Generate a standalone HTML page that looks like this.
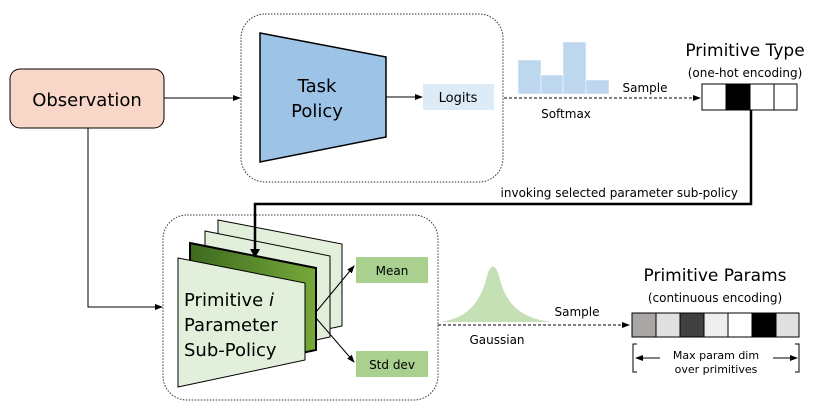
<!DOCTYPE html>
<html><head><meta charset="utf-8"><style>
body{margin:0;background:#fff;}
svg text{font-family:"DejaVu Sans","Liberation Sans",sans-serif;}
</style></head><body>
<svg width="830" height="415" viewBox="0 0 830 415" xmlns="http://www.w3.org/2000/svg">
<defs>
<marker id="a" markerWidth="8" markerHeight="8" refX="7" refY="4" orient="auto" markerUnits="userSpaceOnUse"><path d="M0,1 L8,4 L0,7z" fill="#000"/></marker>
<linearGradient id="g" x1="0" x2="1"><stop offset="0" stop-color="#3d6b1e"/><stop offset="1" stop-color="#76a83a"/></linearGradient>
</defs>
<rect x="10" y="69" width="154" height="59" rx="10" fill="#f8d7c9" stroke="#000" stroke-width="1"/>
<text x="87" y="106" font-size="18" text-anchor="middle">Observation</text>
<line x1="164" y1="98" x2="240" y2="98" stroke="#000" marker-end="url(#a)"/>
<polyline points="88,128 88,307 162,307" fill="none" stroke="#000" marker-end="url(#a)"/>
<rect x="241" y="14" width="262" height="168" rx="24" fill="none" stroke="#333" stroke-dasharray="1.5,1.5"/>
<polygon points="260,33 386,57 386,137 260,162" fill="#9dc3e6" stroke="#000" stroke-width="1.5"/>
<text x="317" y="92" font-size="18" text-anchor="middle">Task</text>
<text x="317" y="117" font-size="18" text-anchor="middle">Policy</text>
<line x1="386" y1="97" x2="422" y2="97" stroke="#000" marker-end="url(#a)"/>
<rect x="423" y="84" width="71" height="26" fill="#ddebf7"/>
<text x="458" y="102" font-size="13" text-anchor="middle">Logits</text>
<g fill="#bdd7ee" stroke="#fff" stroke-width="0.5">
<rect x="518" y="60" width="23" height="34"/><rect x="541" y="75" width="22" height="19"/><rect x="563" y="42" width="23" height="52"/><rect x="586" y="80" width="23" height="14"/>
</g>
<line x1="504" y1="98" x2="700" y2="98" stroke="#000" stroke-dasharray="3,2" marker-end="url(#a)"/>
<text x="645" y="92" font-size="12" text-anchor="middle">Sample</text>
<text x="566" y="118" font-size="12" text-anchor="middle">Softmax</text>
<text x="745" y="56" font-size="17" text-anchor="middle">Primitive Type</text>
<text x="745" y="77" font-size="12" text-anchor="middle">(one-hot encoding)</text>
<g stroke="#000" stroke-width="1"><rect x="702" y="84" width="24" height="26" fill="#fff"/><rect x="726" y="84" width="24" height="26" fill="#000"/><rect x="750" y="84" width="24" height="26" fill="#fff"/><rect x="774" y="84" width="23" height="26" fill="#fff"/></g>
<text x="738" y="197" font-size="12" text-anchor="end">invoking selected parameter sub-policy</text>
<rect x="163" y="215" width="275" height="185" rx="24" fill="none" stroke="#333" stroke-dasharray="1.5,1.5"/>
<polygon points="218,220 342,244 342,326 218,352" fill="#e2efda" stroke="#000"/>
<polygon points="205,231 330,256 330,337 205,364" fill="#e2efda" stroke="#000"/>
<polygon points="190,243 316,268 316,350 190,377" fill="url(#g)" stroke="#000" stroke-width="2"/>
<polygon points="178,258 305,283 305,360 178,387" fill="#e2efda" stroke="#000"/>
<polyline points="751,110 751,204 255,204 255,252" fill="none" stroke="#000" stroke-width="2.5"/>
<path d="M250,249 L255,258 L260,249z" fill="#000"/>
<text x="184" y="306" font-size="18">Primitive <tspan font-style="italic">i</tspan></text>
<text x="184" y="331" font-size="18">Parameter</text>
<text x="184" y="356" font-size="18">Sub-Policy</text>
<line x1="316" y1="312" x2="354" y2="266" stroke="#000" marker-end="url(#a)"/>
<line x1="316" y1="318" x2="354" y2="362" stroke="#000" marker-end="url(#a)"/>
<rect x="356" y="257" width="72" height="26" fill="#a9d08e"/>
<text x="392" y="275" font-size="12" text-anchor="middle">Mean</text>
<rect x="356" y="351" width="72" height="26" fill="#a9d08e"/>
<text x="392" y="369" font-size="12" text-anchor="middle">Std dev</text>
<path d="M440,322 C470,318 480,300 486,280 C490,262 496,262 500,280 C506,300 516,318 552,322 Z" fill="#c5e0b4"/>
<line x1="438" y1="325" x2="629" y2="325" stroke="#000" stroke-dasharray="3,2" marker-end="url(#a)"/>
<text x="577" y="316" font-size="12" text-anchor="middle">Sample</text>
<text x="497" y="344" font-size="12" text-anchor="middle">Gaussian</text>
<text x="715" y="281" font-size="17" text-anchor="middle">Primitive Params</text>
<text x="715" y="302" font-size="12" text-anchor="middle">(continuous encoding)</text>
<g stroke="#000" stroke-width="1">
<rect x="632" y="313" width="24" height="24" fill="#aaa6a5"/><rect x="656" y="313" width="24" height="24" fill="#e0e0e0"/><rect x="680" y="313" width="24" height="24" fill="#404040"/><rect x="704" y="313" width="24" height="24" fill="#eeeeee"/><rect x="728" y="313" width="24" height="24" fill="#fff"/><rect x="752" y="313" width="24" height="24" fill="#000"/><rect x="776" y="313" width="23" height="24" fill="#e0e0e0"/>
</g>
<polyline points="637,344 633,344 633,372 637,372" fill="none" stroke="#000"/>
<polyline points="795,344 799,344 799,372 795,372" fill="none" stroke="#000"/>
<line x1="660" y1="358" x2="636" y2="358" stroke="#000" marker-end="url(#a)"/>
<line x1="773" y1="358" x2="797" y2="358" stroke="#000" marker-end="url(#a)"/>
<text x="716" y="359" font-size="11" text-anchor="middle">Max param dim</text>
<text x="716" y="373" font-size="11" text-anchor="middle">over primitives</text>
</svg>
</body></html>
